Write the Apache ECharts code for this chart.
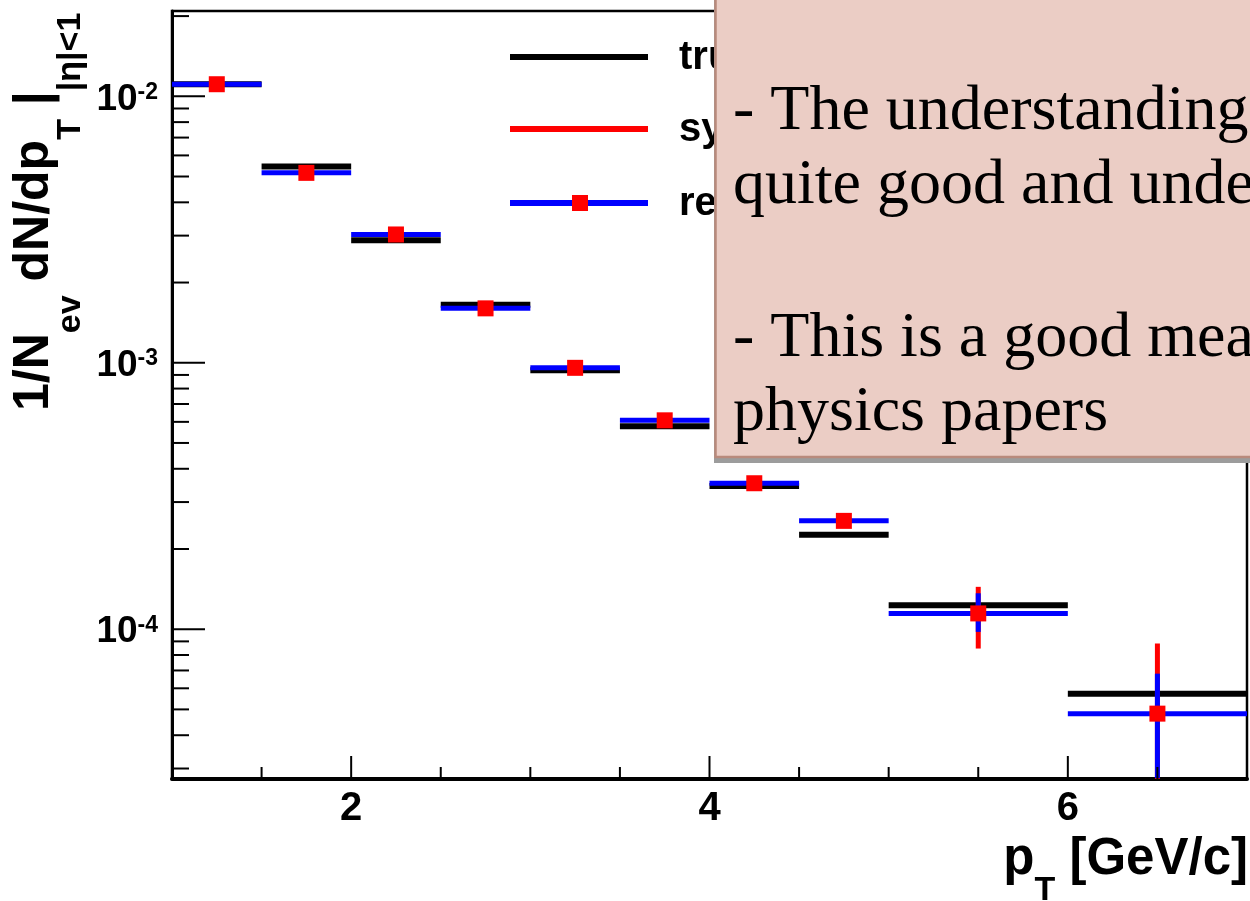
<!DOCTYPE html>
<html><head><meta charset="utf-8">
<script src="https://cdn.jsdelivr.net/npm/echarts@6/dist/echarts.min.js"></script>
<style>html,body{margin:0;padding:0;background:#fff}#chart{width:1250px;height:901px}</style>
</head><body><div id="chart"></div>
<script>
// ---- data ----
const binLow    = [1.0, 1.5, 2.0, 2.5, 3.0, 3.5, 4.0, 4.5, 5.0, 6.0];
const binHigh   = [1.5, 2.0, 2.5, 3.0, 3.5, 4.0, 4.5, 5.0, 6.0, 7.0];
const binCenter = [1.25, 1.75, 2.25, 2.75, 3.25, 3.75, 4.25, 4.75, 5.5, 6.5];
const trueYield = [0.0111, 0.00545, 0.00288, 0.00165, 0.000937, 0.000578, 0.000345, 0.000226, 0.000123, 0.0000573];
const recoYield = [0.0111, 0.00516, 0.00303, 0.00160, 0.000957, 0.000608, 0.000353, 0.000255, 0.0001146, 0.0000482];
const statLow   = [0.0109, 0.00507, 0.00297, 0.00157, 0.000939, 0.000596, 0.000345, 0.000248, 0.0000977, 0.0000276];
const statHigh  = [0.0113, 0.00525, 0.00309, 0.00163, 0.000975, 0.000620, 0.000361, 0.000262, 0.0001364, 0.0000681];
const sysLow    = [0.0108, 0.00503, 0.00294, 0.00156, 0.000930, 0.000590, 0.000341, 0.000242, 0.0000846, 0.0000081];
const sysHigh   = [0.0114, 0.00529, 0.00312, 0.00164, 0.000984, 0.000626, 0.000365, 0.000268, 0.0001442, 0.0000883];

// ---- axes ----
const xMin = 1, xMax = 7;
const yMin = 2.74e-5, yMax = 0.0209;
const xTickValues = [1.5, 2, 2.5, 3, 3.5, 4, 4.5, 5, 5.5, 6, 6.5];
const xMajorTicks = [2, 4, 6];
const xTickLabels = ['2', '4', '6'];
const yMajorTicks = [1e-4, 1e-3, 1e-2];
const yMinorTicks = [3e-5, 4e-5, 5e-5, 6e-5, 7e-5, 8e-5, 9e-5,
  2e-4, 3e-4, 4e-4, 5e-4, 6e-4, 7e-4, 8e-4, 9e-4,
  2e-3, 3e-3, 4e-3, 5e-3, 6e-3, 7e-3, 8e-3, 9e-3, 2e-2];

// ---- text ----
const legendNames = ['true', 'sys. error', 'reco'];
const noteLines = ['- The understanding', 'quite good and unde', '- This is a good mea', 'physics papers'];

const SANS = 'Liberation Sans, Arial, Helvetica, sans-serif';
const SERIF = 'Liberation Serif, Times New Roman, serif';

const chart = echarts.init(document.getElementById('chart'), null, {renderer: 'canvas'});

function hSegSeries(name, values, color, width) {
  return {
    type: 'custom', name: name, silent: true,
    data: binLow.map((lo, i) => [lo, binHigh[i], values[i]]),
    encode: {x: [0, 1], y: 2},
    renderItem: function (params, api) {
      const p1 = api.coord([api.value(0), api.value(2)]);
      const p2 = api.coord([api.value(1), api.value(2)]);
      return {type: 'line', shape: {x1: p1[0], y1: p1[1], x2: p2[0], y2: p2[1]},
        style: {stroke: color, lineWidth: width}};
    }
  };
}
function vErrSeries(name, lows, highs, color, width) {
  return {
    type: 'custom', name: name, silent: true,
    data: binCenter.map((c, i) => [c, lows[i], highs[i]]),
    encode: {x: 0, y: [1, 2]},
    renderItem: function (params, api) {
      const lo = Math.max(api.value(1), yMin);
      const hi = Math.min(api.value(2), yMax);
      const p1 = api.coord([api.value(0), lo]);
      const p2 = api.coord([api.value(0), hi]);
      return {type: 'line', shape: {x1: p1[0], y1: p1[1], x2: p2[0], y2: p2[1]},
        style: {stroke: color, lineWidth: width}};
    }
  };
}

const richMainY = {fontSize: 50, fontWeight: 'bold', fontFamily: SANS, fill: '#000', lineHeight: 90, verticalAlign: 'top'};
const richSubY  = {fontSize: 34, fontWeight: 'bold', fontFamily: SANS, fill: '#000', lineHeight: 90, verticalAlign: 'top', padding: [44, 0, 0, 0]};
const richMainX = {fontSize: 51, fontWeight: 'bold', fontFamily: SANS, fill: '#000', lineHeight: 90, verticalAlign: 'top'};
const richSubX  = {fontSize: 34, fontWeight: 'bold', fontFamily: SANS, fill: '#000', lineHeight: 90, verticalAlign: 'top', padding: [40, 0, 0, 0]};

const option = {
  animation: false,
  backgroundColor: '#fff',
  grid: {left: 172, right: 3, top: 11, bottom: 122, show: true, borderColor: '#000', borderWidth: 2.5, backgroundColor: 'transparent'},
  xAxis: {
    type: 'value', min: xMin, max: xMax, interval: 1,
    axisLine: {show: true, onZero: false, lineStyle: {color: '#000', width: 4}},
    axisTick: {show: false}, splitLine: {show: false},
    axisLabel: {
      margin: 10, color: '#000', fontSize: 40, fontWeight: 'bold', fontFamily: SANS, lineHeight: 40,
      formatter: function (v) { const k = xMajorTicks.indexOf(v); return k >= 0 ? xTickLabels[k] : ''; }
    }
  },
  yAxis: {
    type: 'log', logBase: 10, min: yMin, max: yMax,
    axisLine: {show: true, lineStyle: {color: '#000', width: 3}},
    axisTick: {show: false}, splitLine: {show: false},
    axisLabel: {
      margin: 14, showMinLabel: false, showMaxLabel: false, padding: [6, 0, 0, 0],
      formatter: function (v) { return '{b|10}{s|' + Math.round(Math.log10(v)) + '}'; },
      rich: {
        b: {fontSize: 37, fontWeight: 'bold', fontFamily: SANS, color: '#000', lineHeight: 37, verticalAlign: 'top'},
        s: {fontSize: 23, fontWeight: 'bold', fontFamily: SANS, color: '#000', lineHeight: 19, verticalAlign: 'top'}
      }
    }
  },
  series: [
    {
      type: 'custom', name: 'xticks', silent: true, z: 5,
      data: xTickValues.map(v => [v, yMin]),
      encode: {x: 0, y: 1},
      renderItem: function (params, api) {
        const v = api.value(0);
        const pt = api.coord([v, yMin]);
        const len = xMajorTicks.indexOf(v) >= 0 ? 23 : 12;
        return {type: 'line', shape: {x1: pt[0], y1: pt[1], x2: pt[0], y2: pt[1] - len}, style: {stroke: '#000', lineWidth: 2}};
      }
    },
    {
      type: 'custom', name: 'yticks', silent: true, z: 5,
      data: yMajorTicks.concat(yMinorTicks).map(v => [xMin, v]),
      encode: {x: 0, y: 1},
      renderItem: function (params, api) {
        const v = api.value(1);
        const pt = api.coord([xMin, v]);
        const len = yMajorTicks.indexOf(v) >= 0 ? 33 : 17;
        return {type: 'line', shape: {x1: pt[0], y1: pt[1], x2: pt[0] + len, y2: pt[1]}, style: {stroke: '#000', lineWidth: 2}};
      }
    },
    hSegSeries(legendNames[0], trueYield, '#000000', 6),
    vErrSeries('sys', sysLow, sysHigh, '#ff0000', 5),
    hSegSeries(legendNames[2], recoYield, '#0000ff', 5),
    vErrSeries('stat', statLow, statHigh, '#0000ff', 5),
    {
      type: 'scatter', name: 'marker', silent: true, z: 10,
      symbol: 'rect', symbolSize: 16,
      itemStyle: {color: '#ff0000', opacity: 1},
      data: binCenter.map((c, i) => [c, recoYield[i]])
    }
  ],
  graphic: [
    // legend
    {type: 'line', z: 50, shape: {x1: 510, y1: 57, x2: 648, y2: 57}, style: {stroke: '#000', lineWidth: 6}},
    {type: 'line', z: 50, shape: {x1: 510, y1: 129, x2: 648, y2: 129}, style: {stroke: '#ff0000', lineWidth: 6}},
    {type: 'line', z: 50, shape: {x1: 510, y1: 203, x2: 648, y2: 203}, style: {stroke: '#0000ff', lineWidth: 6}},
    {type: 'rect', z: 51, shape: {x: 572, y: 195, width: 16, height: 16}, style: {fill: '#ff0000'}},
    {type: 'text', z: 50, x: 679, y: 58, style: {text: legendNames[0], font: 'bold 40px ' + SANS, fill: '#000', verticalAlign: 'middle'}},
    {type: 'text', z: 50, x: 679, y: 130, style: {text: legendNames[1], font: 'bold 40px ' + SANS, fill: '#000', verticalAlign: 'middle'}},
    {type: 'text', z: 50, x: 679, y: 204, style: {text: legendNames[2], font: 'bold 40px ' + SANS, fill: '#000', verticalAlign: 'middle'}},
    // axis titles
    {type: 'text', z: 50, x: 9.4, y: 411, rotation: Math.PI / 2,
      style: {text: '{a|1/N}{s|ev}{a| dN/dp}{s|T}{a| |}{s||η|<1}', align: 'left', verticalAlign: 'top',
        rich: {a: richMainY, s: richSubY}}},
    {type: 'text', z: 50, x: 1248, y: 834,
      style: {text: '{a|p}{s|T}{a| [GeV/c]}', align: 'right', verticalAlign: 'top',
        rich: {a: richMainX, s: richSubX}}},
    // note box
    {type: 'rect', z: 100, shape: {x: 714, y: -10, width: 560, height: 473}, style: {fill: '#9c9c9c'}},
    {type: 'rect', z: 101, shape: {x: 715.5, y: -10, width: 560, height: 467}, style: {fill: '#ebcdc5', stroke: '#b98a7c', lineWidth: 2.5}},
    {type: 'text', z: 102, x: 733, y: 112, style: {text: noteLines[0], font: '64px ' + SERIF, fill: '#000', verticalAlign: 'middle'}},
    {type: 'text', z: 102, x: 733, y: 186, style: {text: noteLines[1], font: '64px ' + SERIF, fill: '#000', verticalAlign: 'middle'}},
    {type: 'text', z: 102, x: 733, y: 339, style: {text: noteLines[2], font: '64px ' + SERIF, fill: '#000', verticalAlign: 'middle'}},
    {type: 'text', z: 102, x: 733, y: 413, style: {text: noteLines[3], font: '64px ' + SERIF, fill: '#000', verticalAlign: 'middle'}}
  ]
};
chart.setOption(option);
</script>
</body></html>
